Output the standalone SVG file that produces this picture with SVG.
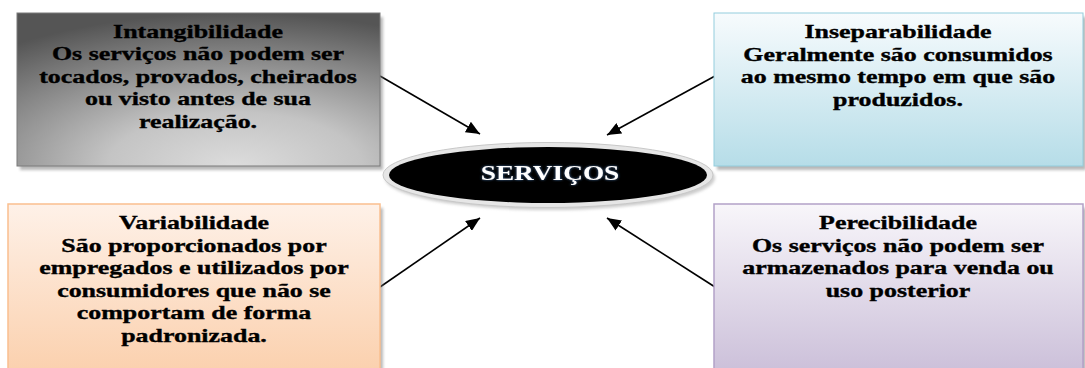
<svg xmlns="http://www.w3.org/2000/svg" width="1085" height="368" viewBox="0 0 1085 368">
<style>
.t{font-family:"Liberation Serif","Times New Roman",serif;font-weight:bold;font-size:18px;fill:#000;stroke:#000;stroke-width:0.35;text-anchor:middle}
.sh{fill:#7f7f7f;opacity:0.55;filter:url(#blur)}
.cn{stroke:#000;stroke-width:1.6;fill:none;marker-end:url(#ah)}
</style>
<defs>
<filter id="blur" x="-5%" y="-5%" width="110%" height="110%"><feGaussianBlur stdDeviation="1.5"/></filter>
<filter id="glow" x="-10%" y="-30%" width="120%" height="160%"><feDropShadow dx="0" dy="0" stdDeviation="1.2" flood-color="#4f81bd" flood-opacity="0.9"/></filter>
<radialGradient id="gGray" cx="0.6" cy="1" r="1" gradientUnits="objectBoundingBox">
<stop offset="0" stop-color="#dcdcdc"/><stop offset="0.35" stop-color="#c4c4c4"/><stop offset="0.75" stop-color="#808080"/><stop offset="1" stop-color="#555"/>
</radialGradient>
<linearGradient id="gBlue" x1="0" y1="0" x2="0" y2="1"><stop offset="0" stop-color="#f7fbfd"/><stop offset="1" stop-color="#b6dde8"/></linearGradient>
<linearGradient id="gOrange" x1="0" y1="0" x2="0" y2="1"><stop offset="0" stop-color="#fef1e8"/><stop offset="1" stop-color="#fbd0ad"/></linearGradient>
<linearGradient id="gPurple" x1="0" y1="0" x2="0" y2="1"><stop offset="0" stop-color="#f8f6fa"/><stop offset="1" stop-color="#cbbfd9"/></linearGradient>
<marker id="ah" viewBox="0 0 14 12" refX="14" refY="6" markerWidth="14" markerHeight="12" markerUnits="userSpaceOnUse" orient="auto">
<path d="M0,0 L14,6 L0,12 z" fill="#000"/>
</marker>
</defs>

<g id="connectors">
<line class="cn" x1="380" y1="76" x2="480" y2="134"/>
<line class="cn" x1="715" y1="76" x2="607" y2="135"/>
<line class="cn" x1="380" y1="287" x2="480" y2="218"/>
<line class="cn" x1="715" y1="287" x2="607" y2="218"/>
</g>

<g id="intangibilidade">
<rect class="sh" x="20" y="17" width="363" height="153"/>
<rect x="17" y="13" width="363" height="153" fill="url(#gGray)" stroke="#7a7a7a" stroke-width="1"/>
<g transform="matrix(1.44 0 0 1 198 0)">
<text class="t" x="0" y="38">Intangibilidade</text>
<text class="t" x="0" y="60">Os serviços não podem ser</text>
<text class="t" x="0" y="83">tocados, provados, cheirados</text>
<text class="t" x="0" y="105">ou visto antes de sua</text>
<text class="t" x="0" y="128">realização.</text>
</g>
</g>

<g id="inseparabilidade">
<rect class="sh" x="717" y="17" width="369" height="153"/>
<rect x="714" y="13" width="369" height="153" fill="url(#gBlue)" stroke="#93cddd" stroke-width="1"/>
<g transform="matrix(1.44 0 0 1 898 0)">
<text class="t" x="0" y="38">Inseparabilidade</text>
<text class="t" x="0" y="61">Geralmente são consumidos</text>
<text class="t" x="0" y="83">ao mesmo tempo em que são</text>
<text class="t" x="0" y="106">produzidos.</text>
</g>
</g>

<g id="variabilidade">
<rect class="sh" x="11" y="208" width="372" height="170"/>
<rect x="8" y="204" width="372" height="170" fill="url(#gOrange)" stroke="#fabf8f" stroke-width="1.5"/>
<g transform="matrix(1.44 0 0 1 194 0)">
<text class="t" x="0" y="229">Variabilidade</text>
<text class="t" x="0" y="252">São proporcionados por</text>
<text class="t" x="0" y="274">empregados e utilizados por</text>
<text class="t" x="0" y="297">consumidores que não se</text>
<text class="t" x="0" y="319">comportam de forma</text>
<text class="t" x="0" y="342">padronizada.</text>
</g>
</g>

<g id="perecibilidade">
<rect class="sh" x="717" y="208" width="369" height="170"/>
<rect x="714" y="204" width="369" height="170" fill="url(#gPurple)" stroke="#b2a1c7" stroke-width="1.5"/>
<g transform="matrix(1.44 0 0 1 898 0)">
<text class="t" x="0" y="229">Perecibilidade</text>
<text class="t" x="0" y="252">Os serviços não podem ser</text>
<text class="t" x="0" y="274">armazenados para venda ou</text>
<text class="t" x="0" y="297">uso posterior</text>
</g>
</g>

<g id="servicos">
<ellipse cx="550" cy="178" rx="165" ry="32" fill="#9a9a9a" opacity="0.5" filter="url(#blur)"/>
<ellipse cx="548" cy="175" rx="165" ry="32.5" fill="#e6e6e6" stroke="#c8c8c8" stroke-width="1"/>
<ellipse cx="548" cy="175" rx="159" ry="28" fill="#000"/>
<g transform="matrix(1.3 0 0 1 550 0)">
<text x="0" y="180" font-family="Liberation Serif, Times New Roman, serif" font-weight="bold" font-size="21" fill="#ffffff" text-anchor="middle" filter="url(#glow)">SERVIÇOS</text>
</g>
</g>
</svg>
